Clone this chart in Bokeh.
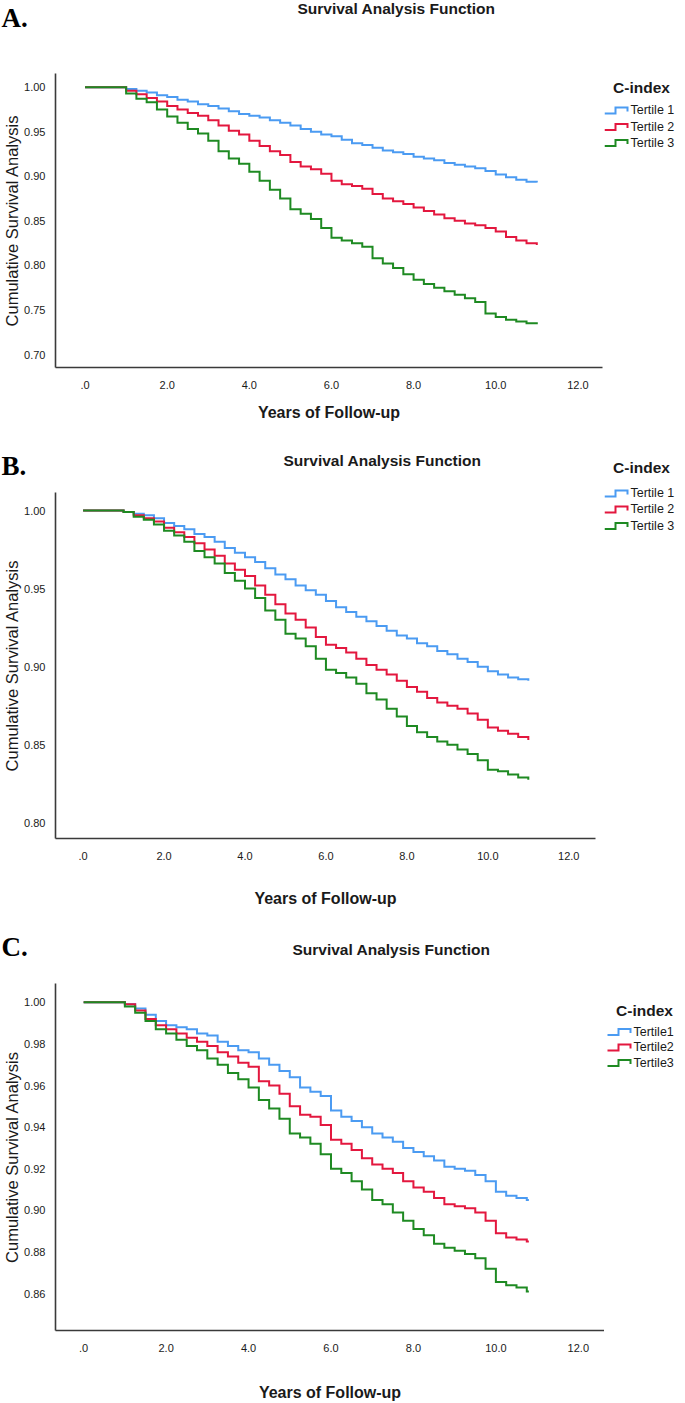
from bokeh.plotting import figure
from bokeh.layouts import column, row
from bokeh.models import Range1d, FixedTicker, PrintfTickFormatter
from bokeh.core.properties import value
from bokeh.embed import file_html
from bokeh.resources import INLINE

# ---------------- data ----------------
series_names_ab = ["Tertile 1", "Tertile 2", "Tertile 3"]
series_names_c = ["Tertile1", "Tertile2", "Tertile3"]

x_ticks = [0, 2, 4, 6, 8, 10, 12]
x_tick_labels = [".0", "2.0", "4.0", "6.0", "8.0", "10.0", "12.0"]
y_ticks_a = [0.70, 0.75, 0.80, 0.85, 0.90, 0.95, 1.00]
y_ticks_b = [0.80, 0.85, 0.90, 0.95, 1.00]
y_ticks_c = [0.86, 0.88, 0.90, 0.92, 0.94, 0.96, 0.98, 1.00]

years_ab = [0, 1.0, 1.25, 1.5, 1.75, 2.0, 2.25, 2.5, 2.75, 3.0, 3.25, 3.5, 3.75, 4.0, 4.25, 4.5,
            4.75, 5.0, 5.25, 5.5, 5.75, 6.0, 6.25, 6.5, 6.75, 7.0, 7.25, 7.5, 7.75, 8.0, 8.25,
            8.5, 8.75, 9.0, 9.25, 9.5, 9.75, 10.0, 10.25, 10.5, 10.75, 11.0]

tertile1_a = [1.0, 0.998, 0.996, 0.994, 0.991, 0.989, 0.986, 0.984, 0.981, 0.979, 0.976, 0.973, 0.970,
              0.968, 0.966, 0.963, 0.960, 0.957, 0.953, 0.950, 0.947, 0.945, 0.941, 0.937, 0.935,
              0.932, 0.929, 0.927, 0.925, 0.922, 0.920, 0.918, 0.915, 0.913, 0.911, 0.909, 0.906,
              0.902, 0.899, 0.896, 0.894, 0.893]
tertile2_a = [1.0, 0.996, 0.992, 0.988, 0.984, 0.979, 0.975, 0.971, 0.968, 0.963, 0.957, 0.951, 0.947,
              0.940, 0.934, 0.928, 0.924, 0.916, 0.911, 0.908, 0.903, 0.895, 0.891, 0.889, 0.886,
              0.880, 0.875, 0.872, 0.869, 0.865, 0.861, 0.857, 0.853, 0.850, 0.847, 0.845, 0.842,
              0.838, 0.832, 0.828, 0.825, 0.823]
tertile3_a = [1.0, 0.993, 0.987, 0.983, 0.975, 0.967, 0.960, 0.953, 0.948, 0.940, 0.928, 0.920, 0.914,
              0.905, 0.895, 0.885, 0.875, 0.863, 0.858, 0.852, 0.842, 0.831, 0.828, 0.825, 0.821,
              0.808, 0.802, 0.797, 0.790, 0.784, 0.779, 0.775, 0.771, 0.767, 0.763, 0.759, 0.746,
              0.742, 0.739, 0.737, 0.735, 0.734]

tertile1_b = [1.0, 0.999, 0.998, 0.997, 0.995, 0.992, 0.990, 0.988, 0.985, 0.983, 0.980, 0.976, 0.973,
              0.970, 0.967, 0.963, 0.959, 0.956, 0.952, 0.949, 0.946, 0.942, 0.938, 0.935, 0.932,
              0.929, 0.926, 0.923, 0.920, 0.918, 0.915, 0.913, 0.910, 0.908, 0.905, 0.903, 0.900,
              0.897, 0.895, 0.893, 0.892, 0.891]
tertile2_b = [1.0, 0.999, 0.997, 0.995, 0.993, 0.989, 0.986, 0.983, 0.979, 0.975, 0.971, 0.966, 0.962,
              0.958, 0.952, 0.946, 0.940, 0.934, 0.930, 0.925, 0.919, 0.914, 0.912, 0.909, 0.905,
              0.901, 0.898, 0.895, 0.891, 0.887, 0.884, 0.880, 0.877, 0.875, 0.873, 0.870, 0.866,
              0.861, 0.859, 0.857, 0.855, 0.853]
tertile3_b = [1.0, 0.999, 0.996, 0.994, 0.991, 0.987, 0.984, 0.980, 0.974, 0.970, 0.966, 0.960, 0.955,
              0.950, 0.944, 0.936, 0.930, 0.921, 0.918, 0.913, 0.905, 0.898, 0.896, 0.893, 0.889,
              0.883, 0.879, 0.873, 0.868, 0.862, 0.858, 0.855, 0.852, 0.850, 0.847, 0.844, 0.840,
              0.834, 0.833, 0.831, 0.829, 0.8275]

years_c = [0, 1.0, 1.25, 1.5, 1.75, 2.0, 2.25, 2.5, 2.75, 3.0, 3.25, 3.5, 3.75, 4.0, 4.25, 4.5,
           4.75, 5.0, 5.25, 5.5, 5.75, 6.0, 6.25, 6.5, 6.75, 7.0, 7.25, 7.5, 7.75, 8.0, 8.25,
           8.5, 8.75, 9.0, 9.25, 9.5, 9.75, 10.0, 10.25, 10.5, 10.75, 10.8]
tertile1_c = [1.0, 0.999, 0.997, 0.994, 0.991, 0.989, 0.988, 0.987, 0.985, 0.984, 0.981, 0.979, 0.977,
              0.976, 0.973, 0.970, 0.967, 0.964, 0.959, 0.957, 0.955, 0.948, 0.945, 0.943, 0.940,
              0.937, 0.935, 0.933, 0.930, 0.928, 0.926, 0.924, 0.921, 0.920, 0.919, 0.917, 0.914,
              0.909, 0.907, 0.906, 0.905, 0.905]
tertile2_c = [1.0, 0.999, 0.996, 0.992, 0.989, 0.987, 0.985, 0.983, 0.981, 0.979, 0.976, 0.974, 0.971,
              0.969, 0.962, 0.960, 0.956, 0.950, 0.946, 0.945, 0.941, 0.934, 0.932, 0.929, 0.925,
              0.922, 0.920, 0.918, 0.914, 0.911, 0.909, 0.906, 0.903, 0.902, 0.901, 0.899, 0.895,
              0.889, 0.887, 0.886, 0.885, 0.885]
tertile3_c = [1.0, 0.998, 0.995, 0.991, 0.987, 0.985, 0.982, 0.979, 0.977, 0.973, 0.970, 0.966, 0.963,
              0.959, 0.953, 0.949, 0.944, 0.937, 0.935, 0.932, 0.927, 0.920, 0.918, 0.914, 0.910,
              0.905, 0.903, 0.899, 0.895, 0.891, 0.888, 0.884, 0.882, 0.8806, 0.879, 0.877, 0.872,
              0.8656, 0.864, 0.863, 0.861, 0.861]

# ---------------- styles / layout ----------------
COLORS = ["#4B9BF2", "#E3173E", "#1E8A22"]
SANS = "Liberation Sans"
SERIF = "Liberation Serif"
TEXT = "#1a1a1a"
W = 677          # total width of a panel
WM = 604         # width of header / chart column (page x 8 .. 612)
WL = W - WM      # width of the legend column (page x 612 .. 685)

# geometry in page pixels; T = panel top, frame box l/r/t/b
panels = [
    dict(letter="A.", names=series_names_ab, years=years_ab,
         series=[tertile1_a, tertile2_a, tertile3_a], yticks=y_ticks_a,
         T=0, H=432, l=55, r=610, t=73, b=367,
         xr=(-0.72, 12.6), yr=(0.68541, 1.01538),
         letter_y=17, title_xy=(404, 8), legend_x=612,
         cidx_y=86.5, item_y=[109.5, 126, 142], xlab_standoff=12),
    dict(letter="B.", names=series_names_ab, years=years_ab,
         series=[tertile1_b, tertile2_b, tertile3_b], yticks=y_ticks_b,
         T=432, H=485, l=55, r=603, t=492, b=838,
         xr=(-0.682, 12.66), yr=(0.78995, 1.01153),
         letter_y=465, title_xy=(390, 460), legend_x=612,
         cidx_y=466.5, item_y=[492.5, 508.5, 525], xlab_standoff=27),
    dict(letter="C.", names=series_names_c, years=years_c,
         series=[tertile1_c, tertile2_c, tertile3_c], yticks=y_ticks_c,
         T=917, H=486, l=56, r=612, t=983, b=1334,
         xr=(-0.683, 12.635), yr=(0.84228, 1.00903),
         letter_y=946, title_xy=(399, 949), legend_x=615,
         cidx_y=1010, item_y=[1031, 1046.5, 1062], xlab_standoff=29),
]


def blank(width, height, x0, x1, ytop, ybot):
    """A plain drawing surface whose data units are page pixels."""
    f = figure(width=width, height=height, output_backend="svg", toolbar_location=None,
               x_range=Range1d(x0, x1), y_range=Range1d(ybot, ytop),
               x_axis_type=None, y_axis_type=None, frame_align=False,
               min_border_left=0, min_border_right=0, min_border_top=0, min_border_bottom=0)
    f.outline_line_color = None
    f.grid.visible = False
    f.background_fill_color = "white"
    f.border_fill_color = "white"
    return f


def build(cfg):
    T, H = cfg["T"], cfg["H"]
    ft = cfg["t"] - T                 # header height
    fl = cfg["l"] - 8                 # frame left in canvas px
    fr = cfg["r"] - 8
    fb = cfg["b"] - T
    x0, x1 = cfg["xr"]
    y0, y1 = cfg["yr"]

    # ---- header: panel letter + title
    head = blank(WM, ft, 8, 8 + WM, T, T + ft)
    head.text(x=[9], y=[cfg["letter_y"]], text=[cfg["letter"]],
              text_font=value(SERIF), text_font_style="bold", text_font_size="27px",
              text_color="black", text_align="left", text_baseline="middle")
    tx, ty = cfg["title_xy"]
    head.text(x=[tx], y=[ty], text=["Survival Analysis Function"],
              text_font=value(SANS), text_font_style="bold", text_font_size="15.5px",
              text_color=TEXT, text_align="center", text_baseline="middle")

    # ---- chart
    p = figure(width=WM, height=H - ft, output_backend="svg", toolbar_location=None,
               x_range=Range1d(x0, x1), y_range=Range1d(y0, y1), frame_align=False,
               min_border_left=fl, min_border_right=WM - fr,
               min_border_top=0, min_border_bottom=H - fb)
    p.outline_line_color = None
    p.grid.visible = False
    p.background_fill_color = "white"
    p.border_fill_color = "white"

    for ax in (p.xaxis[0], p.yaxis[0]):
        ax.axis_line_color = "#3a3a3a"
        ax.axis_line_width = 1.6
        ax.major_tick_line_color = None
        ax.minor_tick_line_color = None
        ax.major_label_text_font = SANS
        ax.major_label_text_font_size = "11px"
        ax.major_label_text_color = TEXT
        ax.axis_label_text_font = SANS
        ax.axis_label_text_color = TEXT

    p.xaxis.ticker = FixedTicker(ticks=x_ticks)
    p.xaxis.major_label_overrides = {t: s for t, s in zip(x_ticks, x_tick_labels)}
    p.xaxis.major_label_standoff = 7
    p.xaxis.axis_label = "Years of Follow-up"
    p.xaxis.axis_label_text_font_style = "bold"
    p.xaxis.axis_label_text_font_size = "16px"
    p.xaxis.axis_label_standoff = cfg["xlab_standoff"]

    p.yaxis.ticker = FixedTicker(ticks=cfg["yticks"])
    p.yaxis.formatter = PrintfTickFormatter(format="%.2f")
    p.yaxis.major_label_standoff = 4
    p.yaxis.axis_label = "Cumulative Survival Analysis"
    p.yaxis.axis_label_text_font_style = "normal"
    p.yaxis.axis_label_text_font_size = "16.5px"
    p.yaxis.axis_label_standoff = 0

    for vals, col in zip(cfg["series"], COLORS):
        p.step(cfg["years"], vals, mode="after", line_color=col, line_width=2,
               line_join="miter")

    # ---- legend column
    leg = blank(WL, H, 8 + WM, 8 + W, T, T + H)
    lx = cfg["legend_x"]
    leg.text(x=[lx + 37], y=[cfg["cidx_y"]], text=["C-index"],
             text_font=value(SANS), text_font_style="bold", text_font_size="15.5px",
             text_color=TEXT, text_align="center", text_baseline="middle")
    for name, col, iy in zip(cfg["names"], COLORS, cfg["item_y"]):
        leg.line(x=[lx, lx + 11, lx + 11, lx + 23, lx + 23],
                 y=[iy + 3.5, iy + 3.5, iy - 2.5, iy - 2.5, iy + 1.5],
                 line_color=col, line_width=2, line_join="miter")
        leg.text(x=[lx + 26], y=[iy], text=[name],
                 text_font=value(SANS), text_font_size="12.5px",
                 text_color=TEXT, text_align="left", text_baseline="middle")

    return row(column(head, p, spacing=0), leg, spacing=0)


layout = column(*[build(c) for c in panels], spacing=0)
open("out.html", "w").write(file_html(layout, INLINE))
